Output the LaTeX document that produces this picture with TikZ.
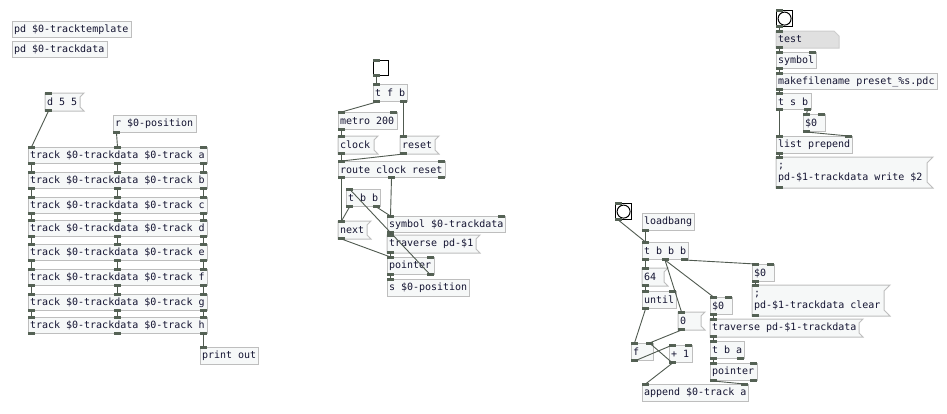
\documentclass[tikz,border=0pt]{standalone}
\usepackage{fontspec}
\IfFontExistsTF{DejaVuSansMono.ttf}
  {\newfontfamily\pdmono{DejaVuSansMono.ttf}}
  {\newfontfamily\pdmono{DejaVu Sans Mono}}
\definecolor{boxline}{RGB}{190,190,190}
\definecolor{boxfill}{RGB}{246,248,248}
\definecolor{ioletcol}{RGB}{85,98,85}
\definecolor{cordcol}{RGB}{80,90,80}
\definecolor{pdtext}{RGB}{20,20,50}
\definecolor{atomfill}{RGB}{224,224,224}
\definecolor{atomline}{RGB}{205,205,205}
\pgfdeclarelayer{bg}
\pgfsetlayers{bg,main}
\tikzset{
  box/.style={draw=boxline, fill=boxfill, line width=1pt},
  obj/.style={box, anchor=north west, inner xsep=1.5pt, inner ysep=0pt, minimum height=17pt, align=flush left, font=\pdmono\fontsize{10}{12}\selectfont, text=pdtext},
  msg/.style={obj, draw=none, fill=none},
  gui/.style={draw=black, fill=white, line width=1.2pt, anchor=north west, inner sep=0pt, minimum size=15pt},
  iolet/.style={fill=ioletcol},
  cord/.style={draw=cordcol, line width=0.9pt},
}
% inlets and outlets, offsets from the left edge
\newcommand{\pdin}[2]{\foreach \k in {#2}{\fill[iolet] ([xshift=\k,yshift=1]#1.north west) rectangle ++(7,3);}}
\newcommand{\pdout}[2]{\foreach \k in {#2}{\fill[iolet] ([xshift=\k,yshift=-1]#1.south west) rectangle ++(7,-3);}}
% message box outline
\newcommand{\pdmsg}[2]{\begin{pgfonlayer}{bg}\draw[box] (#1.north west) -- (#1.north east) -- ([xshift=-#2,yshift=-#2]#1.north east) -- ([xshift=-#2,yshift=#2]#1.south east) -- (#1.south east) -- (#1.south west) -- cycle;\end{pgfonlayer}}

\begin{document}
\begin{tikzpicture}[x=1pt,y=-1pt]
\begin{pgfonlayer}{bg}
\fill[white] (0,0) rectangle (947,413);
\end{pgfonlayer}
\useasboundingbox (0,0) rectangle (947,413);

% subpatches
\node[obj, text width=116pt, minimum height=16pt] (tmpl) at (12,21) {pd \$0-tracktemplate};
\node[obj, text width=92pt, minimum height=16pt] (tdata) at (12,41) {pd \$0-trackdata};

% track chain
\node[msg, text width=35pt] (dmsg) at (45,93) {d 5 5}; \pdmsg{dmsg}{4}
\node[obj, text width=80pt] (rpos) at (113,115) {r \$0-position};
\foreach \r/\ty in {a/147,b/172,c/197,d/220,e/244,f/269,g/294,h/317}
  \node[obj, text width=176pt, minimum height=16pt] (trk\r) at (28,\ty) {track \$0-trackdata \$0-track \r};
\node[obj, text width=55pt] (print) at (200,347) {print out};

\pdin{dmsg}{0} \pdout{dmsg}{0}
\pdout{rpos}{0}
\foreach \r in {a,b,c,d,e,f,g,h}{\pdin{trk\r}{0,86,172}\pdout{trk\r}{0,86,172}}
\pdin{print}{0}

\draw[cord] ([xshift=3.5]dmsg.south west) -- ([xshift=3.5]trka.north west);
\draw[cord] ([xshift=3.5]rpos.south west) -- ([xshift=89.5]trka.north west);
\foreach \p/\q in {a/b,b/c,c/d,d/e,e/f,f/g,g/h}
  \foreach \k in {3.5,89.5,175.5}
    \draw[cord] ([xshift=\k]trk\p.south west) -- ([xshift=\k]trk\q.north west);
\draw[cord] ([xshift=175.5]trkh.south west) -- ([xshift=3.5]print.north west);

% sequencer
\node[gui] (tgl) at (373,60) {};
\node[obj, text width=31pt] (tfb) at (373,84) {t f b};
\node[obj, text width=56pt] (metro) at (338,112) {metro 200};
\node[msg, text width=36pt] (clock) at (338,136) {clock}; \pdmsg{clock}{4}
\node[msg, text width=35pt] (reset) at (400,136) {reset}; \pdmsg{reset}{4}
\node[obj, text width=104pt, minimum height=16pt] (route) at (338,161) {route clock reset};
\node[obj, text width=31pt] (tbb) at (346,189) {t b b};
\node[msg, text width=29pt] (next) at (338,221) {next}; \pdmsg{next}{4}
\node[obj, text width=115pt, minimum height=16pt] (sym) at (387,216) {symbol \$0-trackdata};
\node[msg, text width=89pt] (trav) at (387,235) {traverse pd-\$1}; \pdmsg{trav}{4}
\node[obj, text width=44pt] (ptr) at (387,257) {pointer};
\node[obj, text width=79pt] (spos) at (387,279) {s \$0-position};

\pdin{tgl}{0} \pdout{tgl}{0}
\pdin{tfb}{0} \pdout{tfb}{0,27}
\pdin{metro}{0,52} \pdout{metro}{0}
\pdin{clock}{0} \pdout{clock}{0}
\pdin{reset}{0} \pdout{reset}{0}
\pdin{route}{0,100} \pdout{route}{0,50,100}
\pdin{tbb}{0} \pdout{tbb}{0,27}
\pdin{next}{0} \pdout{next}{0}
\pdin{sym}{0,111} \pdout{sym}{0}
\pdin{trav}{0} \pdout{trav}{0}
\pdin{ptr}{0,40} \pdout{ptr}{0,40}
\pdin{spos}{0}

\draw[cord] ([xshift=3.5]tgl.south west) -- ([xshift=3.5]tfb.north west);
\draw[cord] ([xshift=3.5]tfb.south west) -- ([xshift=3.5]metro.north west);
\draw[cord] ([xshift=30.5]tfb.south west) -- ([xshift=3.5]reset.north west);
\draw[cord] ([xshift=3.5]metro.south west) -- ([xshift=3.5]clock.north west);
\draw[cord] ([xshift=3.5]clock.south west) -- ([xshift=3.5]route.north west);
\draw[cord] ([xshift=3.5]reset.south west) -- ([xshift=3.5]route.north west);
\draw[cord] ([xshift=3.5]route.south west) -- ([xshift=3.5]next.north west);
\draw[cord] ([xshift=53.5]route.south west) -- ([xshift=3.5]sym.north west);
\draw[cord] ([xshift=3.5]tbb.south west) -- ([xshift=3.5]next.north west);
\draw[cord] ([xshift=30.5]tbb.south west) -- ([xshift=3.5]sym.north west);
\draw[cord] ([xshift=43.5]ptr.south west) -- ([xshift=3.5]tbb.north west);
\draw[cord] ([xshift=3.5]sym.south west) -- ([xshift=3.5]trav.north west);
\draw[cord] ([xshift=3.5]trav.south west) -- ([xshift=3.5]ptr.north west);
\draw[cord] ([xshift=3.5]next.south west) -- ([xshift=3.5]ptr.north west);
\draw[cord] ([xshift=3.5]ptr.south west) -- ([xshift=3.5]spos.north west);

% init tracks
\node[gui, minimum size=16pt] (lbng) at (615,203) {};
\draw[line width=1pt] (lbng.center) circle[radius=6.5pt];
\node[obj, text width=49pt] (lbang) at (642,213) {loadbang};
\node[obj, text width=43pt] (tbbb) at (642,242) {t b b b};
\node[msg, text width=22pt] (m64) at (642,268) {64}; \pdmsg{m64}{4}
\node[obj, text width=31pt] (until) at (642,291) {until};
\node[msg, text width=23pt] (zero) at (678,312) {0}; \pdmsg{zero}{4}
\node[obj, text width=19pt] (fbox) at (631,343) {f};
\node[obj, text width=20pt] (plus) at (669,345) {+ 1};
\node[obj, text width=19pt] (dza) at (710,297) {\$0};
\node[msg, text width=149pt] (trav2) at (710,319) {traverse pd-\$1-trackdata}; \pdmsg{trav2}{4}
\node[obj, text width=31pt] (tba) at (710,341) {t b a};
\node[obj, text width=44pt] (ptr2) at (710,363) {pointer};
\node[obj, text width=103pt] (app) at (642,384) {append \$0-track a};
\node[obj, text width=19pt] (dzb) at (752,264) {\$0};
\node[msg, text width=134pt, minimum height=30pt] (clr) at (752,285) {;\\pd-\$1-trackdata clear}; \pdmsg{clr}{6}

\pdin{lbng}{0} \pdout{lbng}{0}
\pdout{lbang}{0}
\pdin{tbbb}{0} \pdout{tbbb}{0,19.5,39}
\pdin{m64}{0} \pdout{m64}{0}
\pdin{until}{0,27} \pdout{until}{0}
\pdin{zero}{0} \pdout{zero}{0}
\pdin{fbox}{0,15} \pdout{fbox}{0}
\pdin{plus}{0,16} \pdout{plus}{0}
\pdin{dza}{0,15} \pdout{dza}{0}
\pdin{trav2}{0} \pdout{trav2}{0}
\pdin{tba}{0} \pdout{tba}{0,27}
\pdin{ptr2}{0,40} \pdout{ptr2}{0,40}
\pdin{app}{0,99}
\pdin{dzb}{0,15} \pdout{dzb}{0}
\pdin{clr}{0} \pdout{clr}{0}

\draw[cord] ([xshift=3.5]lbng.south west) -- ([xshift=3.5]tbbb.north west);
\draw[cord] ([xshift=3.5]lbang.south west) -- ([xshift=3.5]tbbb.north west);
\draw[cord] ([xshift=3.5]tbbb.south west) -- ([xshift=3.5]m64.north west);
\draw[cord] ([xshift=23]tbbb.south west) -- ([xshift=3.5]zero.north west);
\draw[cord] ([xshift=23]tbbb.south west) -- ([xshift=3.5]dza.north west);
\draw[cord] ([xshift=42.5]tbbb.south west) -- ([xshift=3.5]dzb.north west);
\draw[cord] ([xshift=3.5]m64.south west) -- ([xshift=3.5]until.north west);
\draw[cord] ([xshift=3.5]until.south west) -- ([xshift=3.5]fbox.north west);
\draw[cord] ([xshift=3.5]zero.south west) -- ([xshift=18.5]fbox.north west);
\draw[cord] ([xshift=3.5]fbox.south west) -- ([xshift=3.5]plus.north west);
\draw[cord] ([xshift=3.5]plus.south west) -- ([xshift=18.5]fbox.north west);
\draw[cord] ([xshift=3.5]plus.south west) -- ([xshift=3.5]app.north west);
\draw[cord] ([xshift=3.5]dza.south west) -- ([xshift=3.5]trav2.north west);
\draw[cord] ([xshift=3.5]trav2.south west) -- ([xshift=3.5]tba.north west);
\draw[cord] ([xshift=3.5]tba.south west) -- ([xshift=3.5]ptr2.north west);
\draw[cord] ([xshift=3.5]ptr2.south west) -- ([xshift=102.5]app.north west);
\draw[cord] ([xshift=3.5]dzb.south west) -- ([xshift=3.5]clr.north west);

% save preset
\node[gui, minimum size=16pt] (rbng) at (776,10) {};
\draw[line width=1pt] (rbng.center) circle[radius=6.5pt];
\node[msg, text width=59pt, minimum height=16pt] (test) at (776,31) {test};
\begin{pgfonlayer}{bg}
\draw[draw=atomline, fill=atomfill, line width=1pt] (test.north west) -- ([xshift=-5]test.north east) -- ([yshift=-5]test.north east) -- (test.south east) -- (test.south west) -- cycle;
\end{pgfonlayer}
\node[obj, text width=37pt, minimum height=16pt] (symb) at (776,52) {symbol};
\node[obj, text width=158pt, minimum height=16pt] (mkfn) at (776,73) {makefilename preset\_\%s.pdc};
\node[obj, text width=32pt, minimum height=16pt] (tsb) at (776,93) {t s b};
\node[obj, text width=19pt] (dzc) at (803,114) {\$0};
\node[obj, text width=73pt] (lprep) at (776,136) {list prepend};
\node[msg, text width=153pt, minimum height=30pt] (wr) at (776,157) {;\\pd-\$1-trackdata write \$2}; \pdmsg{wr}{6}

\pdin{rbng}{0} \pdout{rbng}{0}
\pdin{test}{0} \pdout{test}{0}
\pdin{symb}{0,33} \pdout{symb}{0}
\pdin{mkfn}{0} \pdout{mkfn}{0}
\pdin{tsb}{0} \pdout{tsb}{0,28}
\pdin{dzc}{0,15} \pdout{dzc}{0}
\pdin{lprep}{0,69} \pdout{lprep}{0}
\pdin{wr}{0} \pdout{wr}{0}

\draw[cord] ([xshift=3.5]rbng.south west) -- ([xshift=3.5]test.north west);
\draw[cord] ([xshift=3.5]test.south west) -- ([xshift=3.5]symb.north west);
\draw[cord] ([xshift=3.5]symb.south west) -- ([xshift=3.5]mkfn.north west);
\draw[cord] ([xshift=3.5]mkfn.south west) -- ([xshift=3.5]tsb.north west);
\draw[cord] ([xshift=3.5]tsb.south west) -- ([xshift=3.5]lprep.north west);
\draw[cord] ([xshift=31.5]tsb.south west) -- ([xshift=3.5]dzc.north west);
\draw[cord] ([xshift=3.5]dzc.south west) -- ([xshift=72.5]lprep.north west);
\draw[cord] ([xshift=3.5]lprep.south west) -- ([xshift=3.5]wr.north west);
\end{tikzpicture}
\end{document}
